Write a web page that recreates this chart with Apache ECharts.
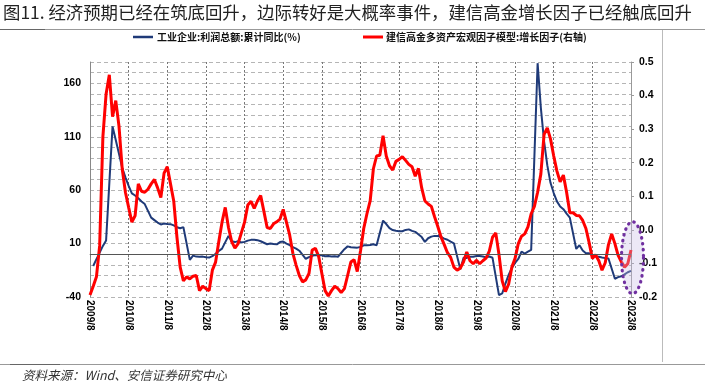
<!DOCTYPE html>
<html><head><meta charset="utf-8">
<script src="https://cdn.jsdelivr.net/npm/echarts@6/dist/echarts.min.js"></script>
<style>html,body{margin:0;padding:0;background:#fff;}#c{width:705px;height:390px;}</style>
</head><body><div id="c"></div>
<script>
// ---- data ----
const startYear = 2009, startMonth = 8, endYear = 2023, endMonth = 8;
const titleText = '图11. 经济预期已经在筑底回升，边际转好是大概率事件，建信高金增长因子已经触底回升';
const sourceText = '资料来源：Wind、安信证券研究中心';
const seriesNames = ['工业企业:利润总额:累计同比(%)', '建信高金多资产宏观因子模型:增长因子(右轴)'];
const leftTicks = [-40, 10, 60, 110, 160];
const rightTicks = [-0.2, -0.1, 0.0, 0.1, 0.2, 0.3, 0.4, 0.5];

// industrial profit cumulative YoY (%), monthly from 2009/8 (null = no release)
const profitYoY = [
 null,-11,-4.5,1.5,7.8,13.0,null,119.7,107,94,81,72,64,57,55,52.5,49.4,47,null,34.3,
 32,29.7,27.9,28.7,28.3,28.2,27.0,25.3,24.4,25.4,null,-5.2,-1.3,-2.2,-2.4,-2.2,-2.7,-3.1,-1.8,0.5,
 3.0,5.3,null,17.2,12.1,11.4,12.3,11.1,11.6,12.8,13.5,13.7,13.2,12.2,null,9.4,10.1,9.6,9.3,11.4,
 11.9,10.0,8.6,6.7,5.3,3.3,null,-4.2,-2.7,-1.3,-0.8,-0.7,-1.0,-1.9,-1.7,-2.0,-1.9,-2.3,null,4.8,
 7.4,6.5,6.4,6.2,6.9,8.4,8.4,8.6,9.4,8.5,null,31.5,28.3,24.4,22.7,22.0,21.6,21.6,22.8,23.3,
 21.9,21.0,null,16.1,11.6,15.0,16.5,17.2,17.1,16.2,14.7,13.6,11.8,10.3,null,-14.0,-3.3,-3.4,-2.3,-2.4,
 -1.7,-1.7,-2.1,-2.9,-2.1,-3.3,null,-38.3,-36.7,-27.4,-19.3,-12.8,-8.1,-4.4,2.4,0.7,2.4,4.1,null,178.9,
 137.3,106.0,83.4,66.9,57.3,49.5,44.7,42.2,38.0,34.3,null,5.0,8.5,3.5,1.0,1.0,-1.1,-2.1,-2.3,-3.0,
 -3.6,-4.0,null,-22.9,-21.4,-20.6,-18.8,-16.8,-15.5
];
// growth factor (right axis), monthly from 2009/8
const growthFactor = [
 -0.194,-0.168,-0.140,-0.047,0.277,0.405,0.462,0.337,0.385,0.309,0.182,0.112,0.067,0.023,0.042,0.137,0.115,0.112,0.121,0.137,
 0.150,0.125,0.096,0.169,0.188,0.137,0.086,-0.022,-0.111,-0.152,-0.140,-0.146,-0.138,-0.136,-0.181,-0.168,-0.175,-0.181,-0.120,-0.096,
 -0.035,0.023,0.067,0.007,-0.035,-0.054,-0.041,-0.009,0.023,0.074,0.085,0.064,0.086,0.102,0.055,0.007,0.004,0.018,0.024,0.032,
 0.061,0.023,-0.015,-0.070,-0.105,-0.136,-0.155,-0.149,-0.130,-0.060,-0.055,-0.079,-0.130,-0.181,-0.197,-0.181,-0.168,-0.175,-0.187,-0.175,
 -0.136,-0.096,-0.089,-0.124,-0.063,0.004,0.048,0.086,0.182,0.220,0.222,0.280,0.220,0.191,0.178,0.204,0.210,0.218,0.207,0.195,
 0.188,0.160,0.183,0.125,0.086,0.077,0.070,0.039,0.010,-0.021,-0.044,-0.068,-0.082,-0.111,-0.120,-0.114,-0.095,-0.066,-0.092,-0.101,
 -0.091,-0.101,-0.092,-0.084,-0.063,-0.022,-0.009,-0.073,-0.152,-0.184,-0.162,-0.111,-0.085,-0.041,-0.019,-0.012,0.009,0.048,0.070,0.112,
 0.166,0.284,0.304,0.271,0.220,0.175,0.143,0.163,0.112,0.051,0.051,0.043,0.042,0.028,0.004,-0.038,-0.085,-0.074,-0.092,-0.120,
 -0.098,-0.044,-0.012,-0.041,-0.076,-0.095,-0.111,-0.101,-0.060
];
// annotation ellipse around the latest readings (right-axis value of its centre)
const highlightCenterValue = -0.083;

// categories
const categories = [];
for (let y = startYear, m = startMonth; y < endYear || (y === endYear && m <= endMonth); ) {
  categories.push(y + '/' + m);
  m++; if (m > 12) { m = 1; y++; }
}

const chart = echarts.init(document.getElementById('c'), null, {renderer: 'canvas'});
const numFont = '"Liberation Sans", Arial, sans-serif';
const BLUE = '#1F3A78', RED = '#FF0000';
const legendText = {fontSize: 10, fontWeight: 'bold', color: '#111', fontFamily: '"Noto Sans CJK SC", sans-serif'};

chart.setOption({
  animation: false,
  backgroundColor: '#fff',
  grid: {left: 90, right: 74, top: 62, bottom: 93, containLabel: false},
  legend: [
    {data: [seriesNames[0]], left: 133, top: 32, padding: 0, itemGap: 0, icon: 'rect', itemWidth: 20, itemHeight: 2.5,
     textStyle: Object.assign({padding: [0, 0, 0, -1]}, legendText)},
    {data: [seriesNames[1]], left: 363, top: 32, padding: 0, itemGap: 0, icon: 'rect', itemWidth: 20, itemHeight: 3,
     textStyle: Object.assign({padding: [0, 0, 0, -2]}, legendText)}
  ],
  xAxis: {
    type: 'category', data: categories, boundaryGap: false,
    axisLine: {show: true, lineStyle: {color: '#999', type: 'dashed'}},
    axisTick: {show: true, interval: 11, length: 3, lineStyle: {color: '#777'}},
    axisLabel: {interval: 11, rotate: -90, margin: 3, fontSize: 10, fontWeight: 'bold', color: '#000', fontFamily: numFont},
    splitLine: {show: true, interval: 11, lineStyle: {color: '#777', type: [2, 2], width: 1}}
  },
  yAxis: [
    {type: 'value', min: -40, max: 180, interval: 10,
     axisLine: {show: true, lineStyle: {color: '#888'}},
     axisTick: {show: false},
     axisLabel: {margin: 9, fontSize: 10.5, fontWeight: 'bold', color: '#000', fontFamily: numFont,
       formatter: v => leftTicks.indexOf(v) >= 0 ? String(v) : ''},
     splitLine: {show: true, lineStyle: {color: '#b5b5b5', type: [4, 3], width: 1}}},
    {type: 'value', min: -0.2, max: 0.5, interval: 0.1, position: 'right',
     axisLine: {show: true, lineStyle: {color: '#999'}},
     axisTick: {show: true, length: 3, inside: false, lineStyle: {color: '#999'}},
     axisLabel: {margin: 8, fontSize: 10.5, fontWeight: 'bold', color: '#000', fontFamily: numFont,
       formatter: v => { const r = Math.round(v * 10) / 10; return rightTicks.some(t => Math.abs(t - r) < 1e-9) ? r.toFixed(1) : ''; }},
     splitLine: {show: false}}
  ],
  series: [
    {name: seriesNames[0], type: 'line', yAxisIndex: 0, data: profitYoY, connectNulls: true,
     showSymbol: false, symbol: 'none', lineStyle: {color: BLUE, width: 2}, itemStyle: {color: BLUE}, z: 3,
     markLine: {silent: true, symbol: 'none', label: {show: false}, animation: false,
       lineStyle: {color: '#555', type: 'solid', width: 1}, data: [{yAxis: 0}]}},
    {name: seriesNames[1], type: 'line', yAxisIndex: 1, data: growthFactor,
     showSymbol: false, symbol: 'none', lineStyle: {color: RED, width: 3}, itemStyle: {color: RED}, z: 4}
  ]
});

// frame, title, footer and the highlight ellipse
const c = chart.convertToPixel({xAxisIndex: 0, yAxisIndex: 1}, [categories[categories.length - 1], highlightCenterValue]);
const rx = 11, ry = 36, pts = [];
for (let k = 0; k < 80; k++) {
  const a = k / 80 * Math.PI * 2;
  pts.push([c[0] + 1.5 + rx * Math.cos(a), c[1] + ry * Math.sin(a)]);
}
chart.setOption({
  graphic: [
    {type: 'text', left: 3, top: 4, style: {text: titleText, font: 'normal 17.4px "Noto Sans CJK SC"', fill: '#222'}},
    {type: 'line', shape: {x1: 0, y1: 29.5, x2: 705, y2: 29.5}, style: {stroke: '#999', lineWidth: 1}},
    {type: 'line', shape: {x1: 0, y1: 29.5, x2: 45, y2: 29.5}, style: {stroke: '#666', lineWidth: 1}},
    {type: 'line', shape: {x1: 662.5, y1: 30, x2: 662.5, y2: 362}, style: {stroke: '#bbb', lineWidth: 1}},
    {type: 'line', shape: {x1: 0, y1: 364.5, x2: 705, y2: 364.5}, style: {stroke: '#999', lineWidth: 1}},
    {type: 'line', shape: {x1: 10, y1: 364.5, x2: 60, y2: 364.5}, style: {stroke: '#666', lineWidth: 1}},
    {type: 'text', left: 22, top: 369, style: {text: sourceText, font: 'italic 12.5px "Noto Sans CJK SC"', fill: '#333'}},
    {type: 'polygon', z: 100, shape: {points: pts},
     style: {fill: 'rgba(200,188,228,0.35)', stroke: '#7030A0', lineWidth: 3.2, lineDash: [0.5, 5.5], lineCap: 'round'}}
  ]
});
</script>
</body></html>
